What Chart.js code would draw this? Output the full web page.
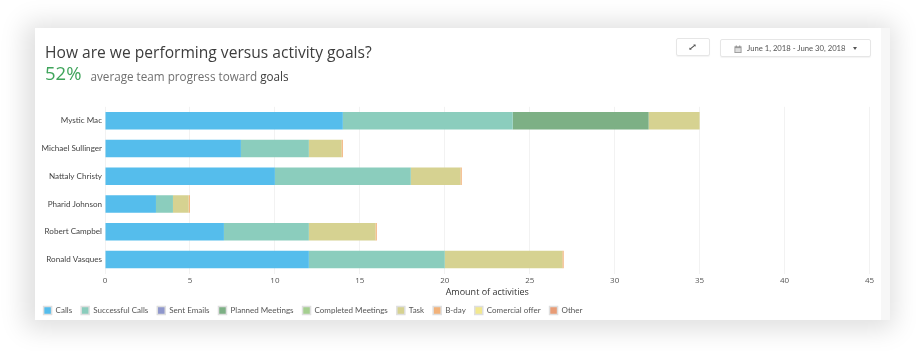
<!DOCTYPE html>
<html><head><meta charset="utf-8">
<script src="https://cdn.jsdelivr.net/npm/chart.js@4"></script>
<style>
html,body{margin:0;padding:0;background:#fff;overflow:hidden}
#page{position:relative;width:916px;height:351px;font-family:"Open Sans",sans-serif;filter:blur(.45px)}
#card{position:absolute;left:35px;top:28px;width:855px;height:292px;background:#fff;box-shadow:-3px 2px 24px 7px rgba(0,0,0,.13)}
#strip{position:absolute;left:881px;top:28px;width:9px;height:292px;background:#f7f7f7}
canvas{position:absolute;left:0;top:0}
.t{position:absolute;white-space:nowrap}
#title{left:45px;top:40px;font-size:15.6px;line-height:24px;color:#3d3d3d}
#pct{left:45px;top:59px;font-size:18.5px;line-height:28px;color:#3fa45b}
#sub{left:90.5px;top:67px;font-size:11.7px;line-height:18px;color:#707070}
#sub b{font-weight:400;color:#3d3d3d}
.btn{position:absolute;box-sizing:border-box;background:#fff;border:1px solid #e6e6e6;border-radius:2px;box-shadow:0 1px 1px rgba(0,0,0,.05)}
#exp{left:676px;top:38px;width:34px;height:18px}
#date{left:720px;top:39px;width:151px;height:18px}
#dt{left:747px;top:41px;font-size:7.7px;line-height:14px;color:#555;font-family:Lato,sans-serif}
#caret{position:absolute;left:853px;top:47px;width:0;height:0;border-left:2.5px solid transparent;border-right:2.5px solid transparent;border-top:3px solid #555}
svg{position:absolute}
</style></head>
<body><div id="page">
<div id="card"></div><div id="strip"></div>
<canvas id="c" width="916" height="351"></canvas>
<div class="t" id="title">How are we performing versus activity goals?</div>
<div class="t" id="pct">52%</div>
<div class="t" id="sub">average team progress toward <b>goals</b></div>
<div class="btn" id="exp"></div>
<svg style="left:689px;top:44px" width="7" height="7" viewBox="0 0 9 9"><path d="M5.5 0.5H8.5V3.500L7.400 2.600L2.600 6.400L3.500 7.500H0.500V4.500L1.600 5.400L6.400 1.600Z" fill="#555"/></svg>
<div class="btn" id="date"></div>
<svg style="left:734px;top:45px" width="8" height="8" viewBox="0 0 8 9"><path d="M0 1.500H8V9H0Z" fill="#999"/><path d="M1 3.500H7V8H1Z" fill="#ddd"/><path d="M1.500 0.500H2.500V2H1.500ZM5.500 0.500H6.500V2H5.500Z" fill="#777"/></svg>
<div class="t" id="dt">June 1, 2018 - June 30, 2018</div>
<div id="caret"></div>
</div>
<script>
const categories = ["Mystic Mac","Michael Sullinger","Nattaly Christy","Pharid Johnson","Robert Campbel","Ronald Vasques"];
const calls = [14,8,10,3,7,12];
const successfulCalls = [10,4,8,1,5,8];
const sentEmails = [0,0,0,0,0,0];
const plannedMeetings = [8,0,0,0,0,0];
const completedMeetings = [0,0,0,0,0,0];
const task = [3,1.92,2.92,0.92,3.92,6.92];
const bDay = [0,0.08,0.08,0.08,0.08,0.08];
const comercialOffer = [0,0,0,0,0,0];
const other = [0,0,0,0,0,0];
const xTicks = [0,5,10,15,20,25,30,35,40,45];
const seriesNames = ["Calls","Successful Calls","Sent Emails","Planned Meetings","Completed Meetings","Task","B-day","Comercial offer","Other"];
const seriesValues = [calls,successfulCalls,sentEmails,plannedMeetings,completedMeetings,task,bDay,comercialOffer,other];
const seriesColors = ["#55bdec","#8bcdbd","#8f97cc","#7db085","#a5cf90","#d6d291","#f2b27a","#f2e88f","#e89c76"];
const font = "'Open Sans', sans-serif";
const smallFont = "Lato, sans-serif";
new Chart(document.getElementById("c"),{
  type:"bar",
  data:{labels:categories,datasets:seriesNames.map((n,i)=>({label:n,data:seriesValues[i],backgroundColor:seriesColors[i],borderWidth:0,barPercentage:.63,categoryPercentage:1}))},
  options:{
    indexAxis:"y",responsive:false,animation:false,
    layout:{padding:{left:34.6,right:46.5,top:106.8,bottom:26.5}},
    scales:{
      x:{stacked:true,min:0,max:45,
        afterBuildTicks(s){s.ticks=xTicks.map(v=>({value:v}));},
        afterFit(s){s.height=24;},
        grid:{color:"#f2f2f2",drawTicks:false,lineWidth:1},border:{display:false},
        ticks:{color:"#555",font:{family:font,size:8},padding:2,maxRotation:0},
        title:{display:true,text:"Amount of activities",color:"#333",font:{family:font,size:9},padding:{top:0,bottom:-0.4}}},
      y:{stacked:true,
        afterFit(s){s.width=70.4;},
        grid:{display:false,drawTicks:false,tickLength:0},border:{display:false},
        ticks:{color:"#444",font:{family:smallFont,size:8.1},padding:3}}
    },
    plugins:{
      tooltip:{enabled:false},
      title:{display:false},
      legend:{position:"bottom",align:"start",
        labels:{font:{family:smallFont,size:8},color:"#555",boxWidth:8,boxHeight:8,padding:9,
          generateLabels(ch){return ch.data.datasets.map((d,i)=>({text:d.label,fillStyle:d.backgroundColor,strokeStyle:"#dfdfdf",lineWidth:1.5,datasetIndex:i,fontColor:"#555"}));}}}
    }
  }
});
</script>
</body></html>
